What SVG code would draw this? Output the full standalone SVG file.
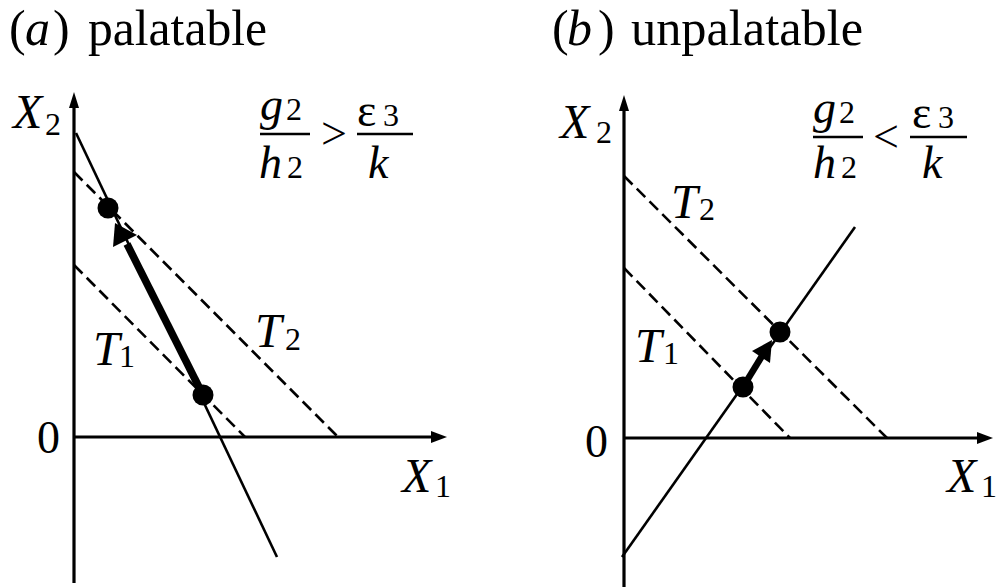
<svg xmlns="http://www.w3.org/2000/svg" width="999" height="587" viewBox="0 0 999 587">
<style>
.i{font-style:italic}
.ax{stroke:#000;stroke-width:3.2;fill:none}
.ln{stroke:#000;stroke-width:2.6;fill:none}
.ds{stroke:#000;stroke-width:2.6;fill:none;stroke-dasharray:12 6}
.bar{stroke:#000;stroke-width:2.6}
</style>
<rect width="999" height="587" fill="#fff"/>
<g id="all-text" font-family="Liberation Serif, DejaVu Serif, serif" fill="#000">
<g id="titles">
<text font-size="50" y="45"><tspan x="9">(</tspan><tspan class="i" x="25">a</tspan><tspan x="53">)</tspan><tspan x="88" textLength="179" lengthAdjust="spacingAndGlyphs">palatable</tspan></text>
<text font-size="50" y="45"><tspan x="552">(</tspan><tspan class="i" x="567">b</tspan><tspan x="598">)</tspan><tspan x="631" textLength="232" lengthAdjust="spacingAndGlyphs">unpalatable</tspan></text>
</g>
<g id="labels-a">
<text y="128"><tspan class="i" x="13" font-size="48">X</tspan><tspan x="45" y="135" font-size="32">2</tspan></text>
<text font-size="46" x="37" y="453">0</text>
<text y="492"><tspan class="i" x="402" font-size="48">X</tspan><tspan x="435" y="497" font-size="32">1</tspan></text>
<text y="365"><tspan class="i" x="93" font-size="48">T</tspan><tspan x="119" y="367" font-size="32">1</tspan></text>
<text y="347"><tspan class="i" x="255" font-size="48">T</tspan><tspan x="285" y="350" font-size="32">2</tspan></text>
</g>
<g id="formula-a">
<text y="120"><tspan class="i" x="260" font-size="46">g</tspan><tspan x="286" font-size="32">2</tspan></text>
<text y="178"><tspan class="i" x="259" font-size="46">h</tspan><tspan x="287" font-size="32">2</tspan></text>
<text font-size="46" x="321" y="149">&gt;</text>
<text y="126"><tspan x="357" font-size="46">ε</tspan><tspan x="383" font-size="32">3</tspan></text>
<text class="i" font-size="46" x="368" y="178">k</text>
</g>
<g id="labels-b">
<text y="138"><tspan class="i" x="560" font-size="48">X</tspan><tspan x="596" y="143" font-size="32">2</tspan></text>
<text font-size="46" x="585" y="457">0</text>
<text y="492"><tspan class="i" x="947" font-size="48">X</tspan><tspan x="981" y="497" font-size="32">1</tspan></text>
<text y="362"><tspan class="i" x="635" font-size="48">T</tspan><tspan x="663" y="364" font-size="32">1</tspan></text>
<text y="218"><tspan class="i" x="671" font-size="48">T</tspan><tspan x="699" y="220" font-size="32">2</tspan></text>
</g>
<g id="formula-b">
<text y="123"><tspan class="i" x="813" font-size="46">g</tspan><tspan x="839" font-size="32">2</tspan></text>
<text y="178"><tspan class="i" x="813" font-size="46">h</tspan><tspan x="841" font-size="32">2</tspan></text>
<text font-size="46" x="873" y="152">&lt;</text>
<text y="128"><tspan x="912" font-size="46">ε</tspan><tspan x="938" font-size="32">3</tspan></text>
<text class="i" font-size="46" x="922" y="178">k</text>
</g>
</g>
<g id="panel-a">
<g id="axes-a">
<line class="ax" x1="74" y1="583" x2="74" y2="104"/>
<polygon points="74,92 69,108 79,108"/>
<line class="ax" x1="74" y1="437" x2="434" y2="437"/>
<polygon points="447,437 431,431 431,443"/>
</g>
<g id="bars-a">
<line class="bar" x1="260" y1="134" x2="310" y2="134"/>
<line class="bar" x1="357" y1="134" x2="413" y2="134"/>
</g>
<g id="lines-a">
<line class="ln" x1="76" y1="133" x2="277" y2="557"/>
<line class="ds" x1="74" y1="172" x2="338" y2="437"/>
<line class="ds" x1="74" y1="265" x2="245" y2="437"/>
</g>
<g id="arrow-a">
<line stroke="#000" stroke-width="7.5" x1="203" y1="395" x2="127" y2="244"/>
<polygon points="115,223 137,235 113,247"/>
</g>
<g id="dots-a">
<circle cx="108" cy="208" r="10.5"/>
<circle cx="203" cy="395" r="10.5"/>
</g>
</g>
<g id="panel-b">
<g id="axes-b">
<line class="ax" x1="624" y1="587" x2="624" y2="107"/>
<polygon points="624,95 619,111 629,111"/>
<line class="ax" x1="624" y1="438" x2="980" y2="438"/>
<polygon points="993,438 977,432 977,444"/>
</g>
<g id="bars-b">
<line class="bar" x1="813" y1="137" x2="863" y2="137"/>
<line class="bar" x1="910" y1="137" x2="967" y2="137"/>
</g>
<g id="lines-b">
<line class="ln" x1="622" y1="557" x2="855" y2="227"/>
<line class="ds" x1="624" y1="176" x2="887" y2="438"/>
<line class="ds" x1="624" y1="268" x2="790" y2="438"/>
</g>
<g id="arrow-b">
<line stroke="#000" stroke-width="6.5" x1="743" y1="387" x2="762" y2="356"/>
<polygon points="772,340 770,363 752,351"/>
</g>
<g id="dots-b">
<circle cx="780" cy="332" r="10.5"/>
<circle cx="743" cy="387" r="10.5"/>
</g>
</g>
</svg>
